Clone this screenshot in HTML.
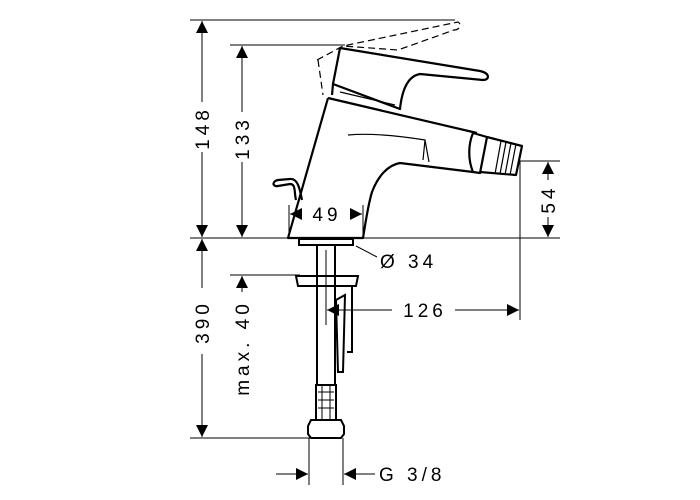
<!DOCTYPE html>
<html><head><meta charset="utf-8"><style>
html,body{margin:0;padding:0;background:#fff;}
svg{display:block;}
text{font-family:"Liberation Sans",sans-serif;font-size:19px;fill:#000;letter-spacing:4px;}
</style></head><body>
<svg width="700" height="500" viewBox="0 0 700 500">
<defs>
<marker id="a" viewBox="0 0 10 10" refX="10" refY="5" markerWidth="12" markerHeight="12" markerUnits="userSpaceOnUse" orient="auto"><path d="M0,0L10,5L0,10z" fill="#000"/></marker>
</defs>
<g stroke="#000" stroke-width="1" fill="none">
<line x1="190" y1="20" x2="455" y2="20"/>
<line x1="230" y1="45" x2="345" y2="45"/>
<line x1="190" y1="238" x2="560" y2="238"/>
<line x1="520" y1="161" x2="560" y2="161"/>
<line x1="520" y1="161" x2="520" y2="320"/>
<line x1="230" y1="275" x2="300" y2="275"/>
<line x1="190" y1="438" x2="310" y2="438"/>
<line x1="309" y1="438" x2="309" y2="485"/>
<line x1="343" y1="438" x2="343" y2="485"/>
<line x1="289" y1="205" x2="289" y2="238"/>
<line x1="363" y1="205" x2="363" y2="238"/>
<line x1="202" y1="102" x2="202" y2="21" marker-end="url(#a)"/>
<line x1="202" y1="152" x2="202" y2="237" marker-end="url(#a)"/>
<line x1="242" y1="112" x2="242" y2="46" marker-end="url(#a)"/>
<line x1="242" y1="162" x2="242" y2="237" marker-end="url(#a)"/>
<line x1="548" y1="180" x2="548" y2="162" marker-end="url(#a)"/>
<line x1="548" y1="217" x2="548" y2="237" marker-end="url(#a)"/>
<line x1="202" y1="288" x2="202" y2="239" marker-end="url(#a)"/>
<line x1="202" y1="354" x2="202" y2="437" marker-end="url(#a)"/>
<line x1="242" y1="292" x2="242" y2="276" marker-end="url(#a)"/>
<line x1="392" y1="310" x2="327" y2="310" marker-end="url(#a)"/>
<line x1="455" y1="310" x2="519" y2="310" marker-end="url(#a)"/>
<line x1="300" y1="214" x2="290" y2="214" marker-end="url(#a)"/>
<line x1="350" y1="214" x2="362" y2="214" marker-end="url(#a)"/>
<line x1="276" y1="474" x2="308" y2="474" marker-end="url(#a)"/>
<line x1="375" y1="474" x2="344" y2="474" marker-end="url(#a)"/>
<line x1="356" y1="246" x2="377" y2="257"/>
</g>
<g stroke="#000" stroke-width="2.2" fill="none" stroke-linejoin="round">
<path d="M328,98 L288,238 L363,238 C366,220 368,205 372,192 C378,176 388,165 400,163 L473,172"/>
<path d="M328,98 L477,133"/>
<path d="M473,133 L487,137 L480,173 L473,172 C468,160 468,145 473,133 Z"/>
<path d="M487,137 L522,146 L516,175 L480,172"/>
<path d="M340,48 L480,71 C490,73 490,80 483,80 L420,74 C408,76 402,90 400,109 L333,84 Z"/>
<path d="M333,84 L332,95"/>
<path d="M278,180 C272,181 272,187 278,186 L290,184 C296,184 294,192 296,200 M278,180 L290,179 C298,178 300,190 302,200"/>
</g>
<g stroke="#000" stroke-width="1.2" fill="none">
<path d="M348,135 C370,133 400,136 425,140 L423,160 M425,140 L429,162"/>
<path d="M340,92 L395,105" />
<line x1="501" y1="141" x2="495" y2="174"/>
<line x1="506" y1="142" x2="500" y2="174"/>
<line x1="511" y1="143" x2="505" y2="175"/>
<line x1="516" y1="144" x2="510" y2="175"/>
</g>
<g stroke="#000" stroke-width="1.2" fill="none" stroke-dasharray="7,4">
<path d="M317,60 L343,46 L458,22 C462,24 460,30 454,30 L398,50 L343,46"/>
<path d="M318,60 L323,95"/>
</g>
<g stroke="#000" stroke-width="2" fill="none">
<rect x="299" y="239" width="54" height="6"/>
<rect x="317" y="245" width="18" height="140"/>
<path d="M296,276 L358,276 L356,286 L298,286 Z"/>
<path d="M340,286 L352,286 L352,352 L347,352"/>
<path d="M336,300 L345,295 L343,372 L338,372 Z"/>
<rect x="316" y="385" width="20" height="35"/>
<path d="M311,420 L341,420 L344,426 L344,434 L341,438 L311,438 L308,434 L308,426 Z"/>
</g>
<g stroke="#000" stroke-width="1" fill="none">
<line x1="326" y1="250" x2="326" y2="325"/>
<line x1="318" y1="392" x2="334" y2="392"/><line x1="318" y1="400" x2="334" y2="400"/><line x1="318" y1="408" x2="334" y2="408"/>
<line x1="322" y1="385" x2="322" y2="420"/><line x1="330" y1="385" x2="330" y2="420"/>
</g>
<text transform="translate(209,128) rotate(-90)" text-anchor="middle">148</text>
<text transform="translate(249,138) rotate(-90)" text-anchor="middle">133</text>
<text transform="translate(555,199) rotate(-90)" text-anchor="middle">54</text>
<text transform="translate(209,322) rotate(-90)" text-anchor="middle">390</text>
<text transform="translate(249,348) rotate(-90)" text-anchor="middle">max. 40</text>
<text x="327" y="221" text-anchor="middle">49</text>
<text x="425" y="317" text-anchor="middle">126</text>
<text x="380" y="268">Ø 34</text>
<text x="379" y="481" letter-spacing="1">G 3/8</text>
</svg>
</body></html>
